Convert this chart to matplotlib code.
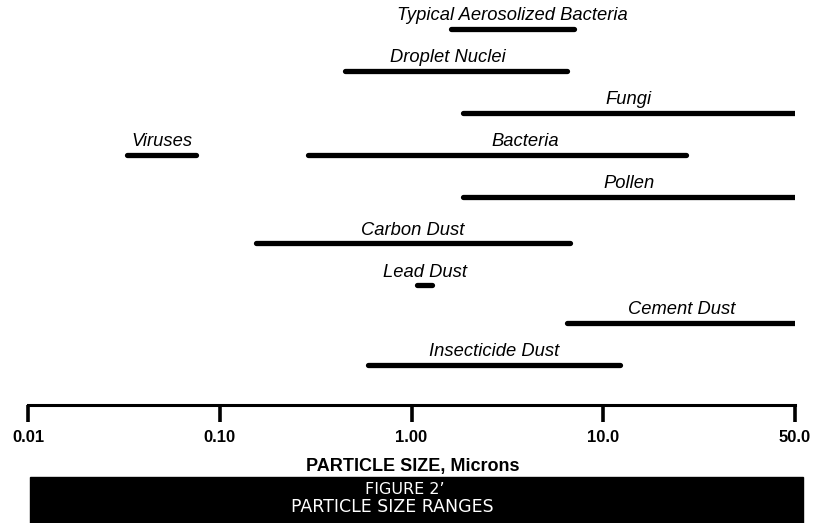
import numpy as np
import matplotlib
matplotlib.use("Agg")
import matplotlib.pyplot as plt
from matplotlib.patches import Rectangle

# particle size ranges in microns
names = ["Typical Aerosolized Bacteria", "Droplet Nuclei", "Fungi", "Bacteria", "Viruses",
         "Pollen", "Carbon Dust", "Lead Dust", "Cement Dust", "Insecticide Dust"]
low = [1.6, 0.45, 1.85, 0.29, 0.033, 1.85, 0.155, 1.07, 6.5, 0.59]
high = [7.0, 6.5, 50.0, 20.0, 0.075, 50.0, 6.7, 1.28, 50.0, 11.5]
rows = [0, 1, 2, 3, 3, 4, 5.1, 6.1, 7, 8]

tick_values = [0.01, 0.1, 1.0, 10.0, 50.0]
tick_labels = ["0.01", "0.10", "1.00", "10.0", "50.0"]

# the original axis puts 10 -> 50 in the same width as one decade
LOG5 = np.log10(5.0)


def fwd(x):
    lx = np.log10(np.clip(x, 1e-6, None))
    return np.where(lx <= 1, lx + 2, 3 + (lx - 1) / LOG5)


def inv(p):
    p = np.asarray(p, dtype=float)
    return np.where(p <= 3, 10 ** (p - 2), 10 ** (1 + (p - 3) * LOG5))


W, H = 819, 523
fig = plt.figure(figsize=(W / 100, H / 100), dpi=100)
ax = fig.add_axes([28 / W, (H - 405) / H, (795 - 28) / W, 405 / H])
ax.set_xscale("function", functions=(fwd, inv))
ax.set_xlim(0.01, 50)
ax.set_ylim(8.95, -0.69)

label_font = dict(family="Liberation Sans", style="italic", fontsize=13.2)
label_shift = {"Bacteria": 20, "Droplet Nuclei": -6}

for name, lo, hi, r in zip(names, low, high, rows):
    ax.plot([lo, hi], [r, r], color="black", lw=3.8, solid_capstyle="round")
    mid = inv((fwd(lo) + fwd(hi)) / 2)
    ax.annotate(name, (mid, r), xytext=(label_shift.get(name, 0), 9.5),
                textcoords="offset points", ha="center", va="center", **label_font)

for side in ["top", "left", "right"]:
    ax.spines[side].set_visible(False)
ax.spines["bottom"].set_linewidth(2.2)
ax.set_yticks([])
ax.set_xticks(tick_values)
ax.set_xticklabels(tick_labels, fontweight="bold", fontsize=12, family="Liberation Sans")
ax.xaxis.set_minor_locator(matplotlib.ticker.NullLocator())
ax.tick_params(axis="x", direction="out", length=12, width=2.6, pad=6)

fig.text(413 / W, 1 - 466 / H, "PARTICLE SIZE, Microns", ha="center", va="center",
         fontsize=13, fontweight="bold", family="Liberation Sans")

# black caption band
fig.patches.append(Rectangle((30 / W, 0), (803 - 30) / W, (H - 477) / H,
                             transform=fig.transFigure, color="black", zorder=0))
fig.text(405 / W, 1 - 490 / H, "FIGURE 2\u2019", ha="center", va="center",
         color="white", fontsize=11.5, family="DejaVu Sans")
fig.text(392 / W, 1 - 507 / H, "PARTICLE SIZE RANGES", ha="center", va="center",
         color="white", fontsize=12.5, family="DejaVu Sans")

fig.savefig("out.png", dpi=100)
